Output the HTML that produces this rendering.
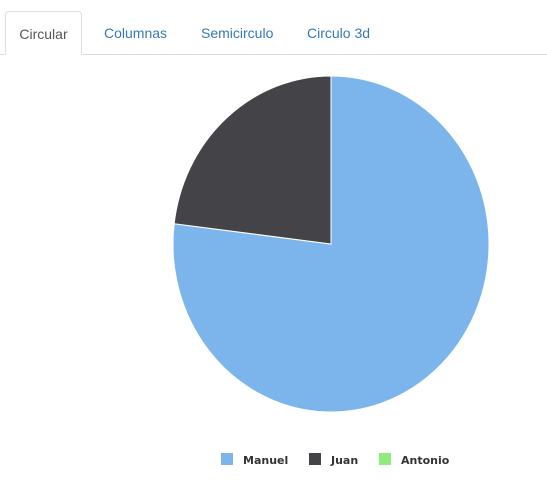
<!DOCTYPE html>
<html><head><meta charset="utf-8">
<style>
body{margin:0;width:547px;height:480px;background:#fff;font-family:"Liberation Sans",sans-serif;position:relative;overflow:hidden}
.tabs{position:absolute;left:0;top:0;width:547px;height:55px;border-bottom:1px solid #ddd;box-sizing:border-box}
.tab{position:absolute;top:11px;height:44px;line-height:44px;font-size:14px;color:#337ab7}
.tab.active{left:5px;width:77px;border:1px solid #ddd;border-bottom:1px solid #fff;border-radius:4px 4px 0 0;background:#fff;color:#555;text-align:center;box-sizing:border-box}
</style></head><body>
<div class="tabs">
<div class="tab active">Circular</div>
<div class="tab" style="left:104px">Columnas</div>
<div class="tab" style="left:201px">Semicirculo</div>
<div class="tab" style="left:307px">Circulo 3d</div>
</div>
<svg id="chart" width="547" height="480" style="position:absolute;left:0;top:0"></svg>
<script>
const categories=["Manuel","Juan","Antonio"];
const values=[10,3,0];
const colors=["#7cb5ec","#434348","#90ed7d"];
const svg=document.getElementById('chart');
const NS="http://www.w3.org/2000/svg";
const cx=331,cy=244,rx=158,ry=168;
const total=values.reduce((a,b)=>a+b,0);
let start=0;
values.forEach((v,i)=>{
  if(v<=0)return;
  const a0=start/total*2*Math.PI,a1=(start+v)/total*2*Math.PI;start+=v;
  const x0=cx+rx*Math.sin(a0),y0=cy-ry*Math.cos(a0),x1=cx+rx*Math.sin(a1),y1=cy-ry*Math.cos(a1);
  const large=(a1-a0)>Math.PI?1:0;
  const p=document.createElementNS(NS,'path');
  p.setAttribute('d',`M${cx},${cy}L${x0},${y0}A${rx},${ry} 0 ${large} 1 ${x1},${y1}Z`);
  p.setAttribute('fill',colors[i]);p.setAttribute('stroke','#fff');p.setAttribute('stroke-width','1');
  
  
  svg.appendChild(p);
});
const lx=[221,309,379];
categories.forEach((c,i)=>{
  const g=document.createElementNS(NS,'g');
  
  
  const r=document.createElementNS(NS,'rect');
  r.setAttribute('x',lx[i]);r.setAttribute('y',453);r.setAttribute('width',12);r.setAttribute('height',12);r.setAttribute('fill',colors[i]);
  const t=document.createElementNS(NS,'text');
  t.setAttribute('x',lx[i]+22);t.setAttribute('y',464);t.setAttribute('font-size','11');t.setAttribute('font-weight','bold');t.setAttribute('fill','#333');
  t.setAttribute('font-family','"DejaVu Sans",sans-serif');
  t.textContent=c;
  g.appendChild(r);g.appendChild(t);svg.appendChild(g);
});
</script>
</body></html>
